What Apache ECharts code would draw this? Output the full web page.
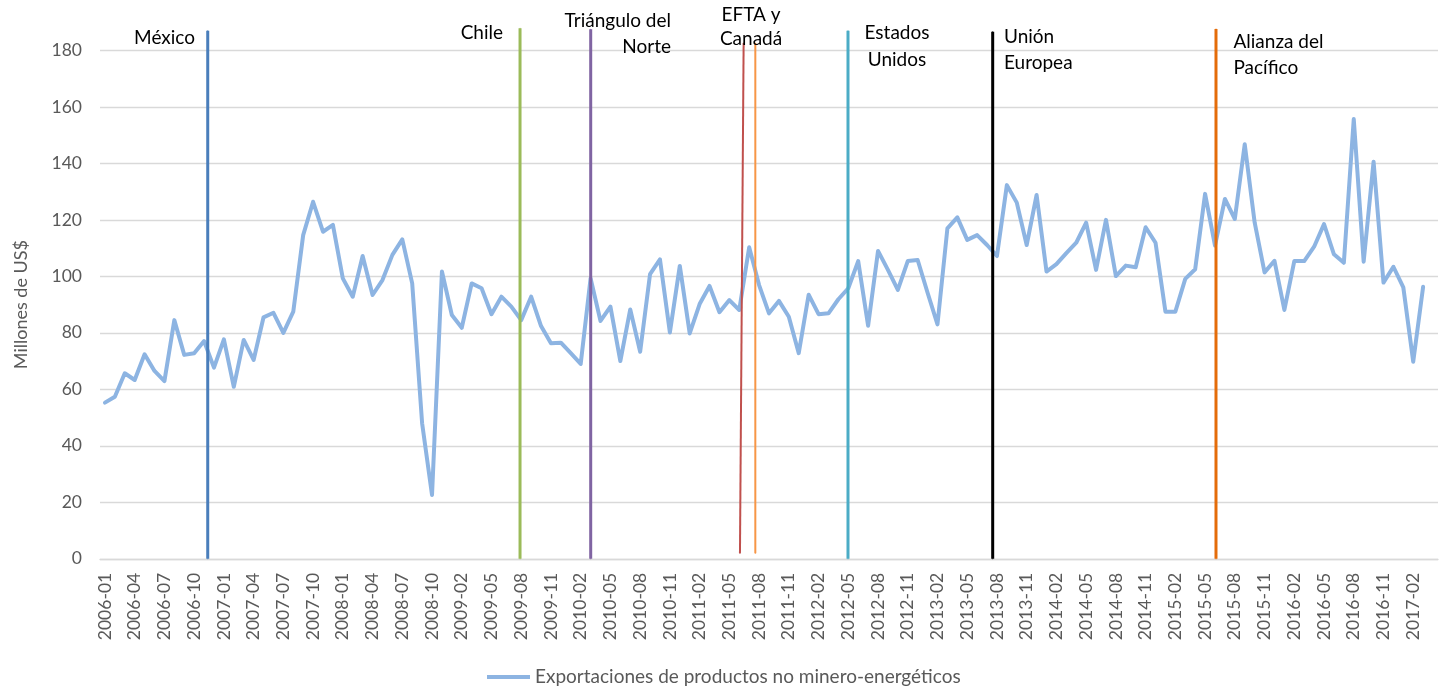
<!DOCTYPE html>
<html>
<head>
<meta charset="utf-8">
<script src="https://cdn.jsdelivr.net/npm/echarts@6/dist/echarts.min.js"></script>
<style>
html,body{margin:0;padding:0;background:#fff;}
#chart{width:1442px;height:689px;}
</style>
</head>
<body>
<div id="chart"></div>
<script>
// ---- Data ----
const firstYear = 2006, firstMonth = 1, lastYear = 2017, lastMonth = 4;
const skippedMonths = ['2009-01'];
const categories = [];
for (let y = firstYear; y <= lastYear; y++) {
  for (let m = 1; m <= 12; m++) {
    if (y === firstYear && m < firstMonth) continue;
    if (y === lastYear && m > lastMonth) continue;
    const s = y + '-' + (m < 10 ? '0' + m : m);
    if (skippedMonths.indexOf(s) === -1) categories.push(s);
  }
}

const seriesName = 'Exportaciones de productos no minero-energéticos';
const exportsValues = [
  55.3, 57.4, 65.7, 63.3, 72.4, 66.5, 62.9, 84.5, 72.2, 72.8, 77.1, 67.7,
  77.7, 60.9, 77.5, 70.4, 85.5, 87.1, 80.0, 87.5, 114.6, 126.4, 115.8, 118.2,
  99.3, 92.8, 107.2, 93.4, 98.7, 107.6, 113.1, 97.5, 48.0, 22.6, 101.7, 86.3,
  81.8, 97.5, 95.8, 86.6, 92.8, 89.3, 84.5, 92.8, 82.4, 76.3, 76.5, 72.8,
  69.0, 99.3, 84.2, 89.3, 70.0, 88.3, 73.3, 100.8, 106.0, 80.1, 103.7, 79.8,
  90.2, 96.6, 87.3, 91.6, 88.1, 110.3, 96.9, 86.9, 91.3, 85.7, 72.8, 93.5,
  86.6, 86.9, 91.9, 95.8, 105.4, 82.5, 109.0, 102.3, 95.2, 105.4, 105.8, 94.2,
  83.0, 117.0, 120.9, 112.9, 114.6, 111.1, 107.2, 132.3, 126.1, 111.1, 128.8, 101.7,
  104.3, 108.2, 111.9, 119.0, 102.3, 120.0, 100.1, 103.8, 103.2, 117.4, 111.9, 87.5,
  87.5, 99.1, 102.5, 129.2, 110.9, 127.4, 120.3, 146.8, 119.1, 101.4, 105.5, 88.1,
  105.4, 105.4, 110.5, 118.5, 107.8, 104.8, 155.7, 105.2, 140.6, 97.8, 103.4, 96.1,
  69.8, 96.3, null
];

// Agreement markers (position in category index units, value extent)
const eventLabels = ['México', 'Chile', 'Triángulo del\nNorte', 'EFTA y\nCanadá', '', 'Estados\nUnidos', 'Unión\nEuropea', 'Alianza del\nPacífico'];
const eventXBottom = [10.37, 41.88, 49.01, 64.07, 65.62, 74.97, 89.57, 112.1];
const eventXTop    = [10.37, 41.88, 49.01, 64.44, 65.62, 74.97, 89.57, 112.1];
const eventYBottom = [0, 0, 0, 2, 2, 0, 0, 0];
const eventYTop    = [187.0, 187.8, 187.5, 182.6, 182.6, 187.0, 186.6, 187.6];

const yTicks = { min: 0, max: 180, interval: 20 };

// ---- Styles ----
const FONT = 'Lato, "Open Sans", sans-serif';
const eventColors = ['#4a7ebb', '#9bbb59', '#8064a2', '#c0504d', '#f79646', '#4bacc6', '#000000', '#e46c0a'];
const eventWidths = [3, 3, 3, 2, 2, 3, 3, 3];
const eventLabelStyle = [
  { align: 'right', offset: [-12.7, 7.3], lineHeight: 26 },
  { align: 'right', offset: [-17, 4.7], lineHeight: 26 },
  { align: 'right', offset: [80.3, 4.4], lineHeight: 26 },
  { align: 'center', offset: [7.4, -16], lineHeight: 24 },
  { align: 'center', offset: [0, 0], lineHeight: 24 },
  { align: 'center', offset: [49, 15.8], lineHeight: 27 },
  { align: 'left', offset: [11.3, 18.3], lineHeight: 26 },
  { align: 'left', offset: [17.5, 26], lineHeight: 26 }
];

const nCat = categories.length;

const eventSeries = eventLabels.map((lab, i) => ({
  type: 'line',
  xAxisIndex: 1,
  yAxisIndex: 0,
  clip: false,
  silent: true,
  animation: false,
  symbol: 'circle',
  symbolSize: 1,
  showSymbol: true,
  itemStyle: { color: eventColors[i] },
  lineStyle: { color: eventColors[i], width: eventWidths[i] },
  emphasis: { disabled: true },
  z: 3,
  data: [
    [eventXBottom[i], eventYBottom[i]],
    {
      value: [eventXTop[i], eventYTop[i]],
      label: {
        show: lab !== '',
        position: 'inside',
        formatter: lab,
        align: eventLabelStyle[i].align,
        verticalAlign: 'middle',
        offset: eventLabelStyle[i].offset,
        lineHeight: eventLabelStyle[i].lineHeight,
        fontSize: 19,
        fontFamily: FONT,
        color: '#000'
      }
    }
  ]
}));

const chart = echarts.init(document.getElementById('chart'), null, { renderer: 'canvas' });
chart.setOption({
  animation: false,
  backgroundColor: '#ffffff',
  grid: { left: 100, right: 4, top: 50.4, bottom: 130.2, containLabel: false, outerBoundsMode: 'none' },
  legend: {
    data: [seriesName],
    left: 487,
    top: 666,
    padding: 0,
    icon: 'rect',
    itemWidth: 43,
    itemHeight: 4,
    itemGap: 10,
    textStyle: { color: '#595959', fontSize: 19, fontFamily: FONT, lineHeight: 22 }
  },
  xAxis: [
    {
      type: 'category',
      data: categories,
      boundaryGap: true,
      axisLine: { show: true, lineStyle: { color: '#d9d9d9', width: 1.3 } },
      axisTick: { show: false },
      axisLabel: {
        interval: 2,
        rotate: 90,
        margin: 14,
        color: '#595959',
        fontSize: 17.5,
        fontFamily: FONT
      },
      splitLine: { show: false }
    },
    {
      type: 'value',
      show: false,
      min: -0.5,
      max: nCat - 0.5,
      splitLine: { show: false }
    }
  ],
  yAxis: {
    type: 'value',
    min: yTicks.min,
    max: yTicks.max,
    interval: yTicks.interval,
    name: 'Millones de US$',
    nameLocation: 'middle',
    nameRotate: 90,
    nameGap: 70,
    nameTextStyle: { color: '#595959', fontSize: 18, fontFamily: FONT },
    axisLine: { show: false },
    axisTick: { show: false },
    axisLabel: { color: '#595959', fontSize: 17.5, fontFamily: FONT, margin: 18 },
    splitLine: { show: true, lineStyle: { color: '#d9d9d9', width: 1.3 } }
  },
  series: [
    {
      name: seriesName,
      type: 'line',
      data: exportsValues,
      showSymbol: false,
      symbol: 'none',
      itemStyle: { color: '#8db4e2' },
      lineStyle: { color: '#8db4e2', width: 4, join: 'round', cap: 'round' },
      emphasis: { disabled: true },
      silent: true,
      z: 2
    }
  ].concat(eventSeries)
});
</script>
</body>
</html>
